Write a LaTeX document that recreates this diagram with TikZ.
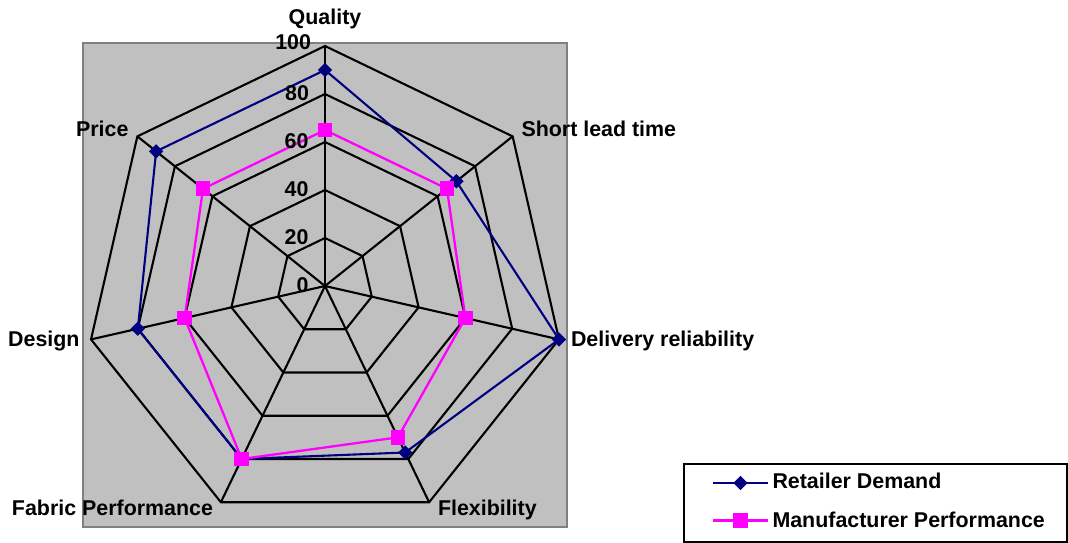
\documentclass[tikz,border=0pt]{standalone}
\usepackage{fontspec}
\setmainfont{Liberation Sans}
\usetikzlibrary{shapes.geometric}
\definecolor{plotgray}{RGB}{192,192,192}
\definecolor{framegray}{RGB}{128,128,128}
\definecolor{navyblue}{RGB}{0,0,128}
\definecolor{magent}{RGB}{255,0,255}
\begin{document}
\begin{tikzpicture}[x=1pt,y=-1pt,
  lbl/.style={font=\fontsize{21.4}{25}\selectfont\bfseries, inner sep=0pt, outer sep=0pt},
  gridline/.style={black, line width=2.1pt, line join=miter},
  retail/.style={navyblue, line width=2.1pt},
  manuf/.style={magent, line width=2.3pt},
  dmark/.style={shape=diamond, fill=navyblue, draw=none, minimum width=14.5pt, minimum height=14.5pt, inner sep=0pt},
  smark/.style={shape=rectangle, fill=magent, draw=none, minimum width=14.5pt, minimum height=14.5pt, inner sep=0pt},
  legendbox/.style={draw=black, line width=2pt, fill=white}
]
\useasboundingbox (0,0) rectangle (1068,543);
\fill[white] (0,0) rectangle (1068,543);
% plot area
\draw[fill=plotgray, draw=framegray, line width=2pt] (83,43.5) rectangle (566.5,527);
\coordinate (c) at (325,286);
% grid coordinates
\foreach \i in {0,...,6} {
  \pgfmathsetmacro\ang{90-\i*360/7}
  \foreach \k in {1,...,5} {
    \coordinate (g\k-\i) at ({325+48*\k*cos(\ang)}, {286-48*\k*sin(\ang)});
  }
}
% rings
\foreach \k in {1,...,5} {
  \draw[gridline] (g\k-0) -- (g\k-1) -- (g\k-2) -- (g\k-3) -- (g\k-4) -- (g\k-5) -- (g\k-6) -- cycle;
}
% spokes
\foreach \i in {0,...,6} {
  \draw[gridline] (c) -- (g5-\i);
}
% data coordinates
\foreach \i/\v in {0/90,1/70,2/100,3/77,4/80,5/80,6/90} {
  \pgfmathsetmacro\ang{90-\i*360/7}
  \coordinate (r\i) at ({325+2.4*\v*cos(\ang)}, {286-2.4*\v*sin(\ang)});
}
\foreach \i/\v in {0/65,1/65,2/60,3/70,4/80,5/60,6/65} {
  \pgfmathsetmacro\ang{90-\i*360/7}
  \coordinate (m\i) at ({325+2.4*\v*cos(\ang)}, {286-2.4*\v*sin(\ang)});
}
% retailer series
\draw[retail, line join=miter] (r0) -- (r1) -- (r2) -- (r3) -- (r4) -- (r5) -- (r6) -- cycle;
\foreach \i in {0,...,6} { \node[dmark] (rd\i) at (r\i) {}; }
% manufacturer series
\draw[manuf, line join=miter] (m0) -- (m1) -- (m2) -- (m3) -- (m4) -- (m5) -- (m6) -- cycle;
\foreach \i in {0,...,6} { \node[smark] (ms\i) at (m\i) {}; }
% axis value labels
\node[lbl, anchor=base east] (v100) at (311,50) {100};
\node[lbl, anchor=base east] (v80) at (309,100) {80};
\node[lbl, anchor=base east] (v60) at (308.5,148) {60};
\node[lbl, anchor=base east] (v40) at (308.5,196) {40};
\node[lbl, anchor=base east] (v20) at (308.5,244) {20};
\node[lbl, anchor=base east] (v0) at (308.5,292) {0};
% category labels
\node[lbl, anchor=base] (lq) at (325,25) {Quality};
\node[lbl, anchor=base west] (ls) at (521.5,136) {Short lead time};
\node[lbl, anchor=base west] (ld) at (571,346.5) {Delivery reliability};
\node[lbl, anchor=base west] (lf) at (438,515.5) {Flexibility};
\node[lbl, anchor=base east] (lfp) at (213,515.5) {Fabric Performance};
\node[lbl, anchor=base east] (lde) at (79.5,346.5) {Design};
\node[lbl, anchor=base east] (lp) at (128.5,136.5) {Price};
% legend
\draw[legendbox] (683.5,463.5) rectangle (1067,541.5);
\coordinate (la1) at (713,483);
\coordinate (la2) at (768,483);
\draw[retail] (la1) -- (la2);
\node[dmark] (lam) at (740.5,483) {};
\node[lbl, anchor=base west] (lat) at (772.5,488.5) {Retailer Demand};
\coordinate (lb1) at (713,520.5);
\coordinate (lb2) at (768,520.5);
\draw[manuf] (lb1) -- (lb2);
\node[smark] (lbm) at (740.5,520.5) {};
\node[lbl, anchor=base west] (lbt) at (772.5,527) {Manufacturer Performance};
\end{tikzpicture}
\end{document}
